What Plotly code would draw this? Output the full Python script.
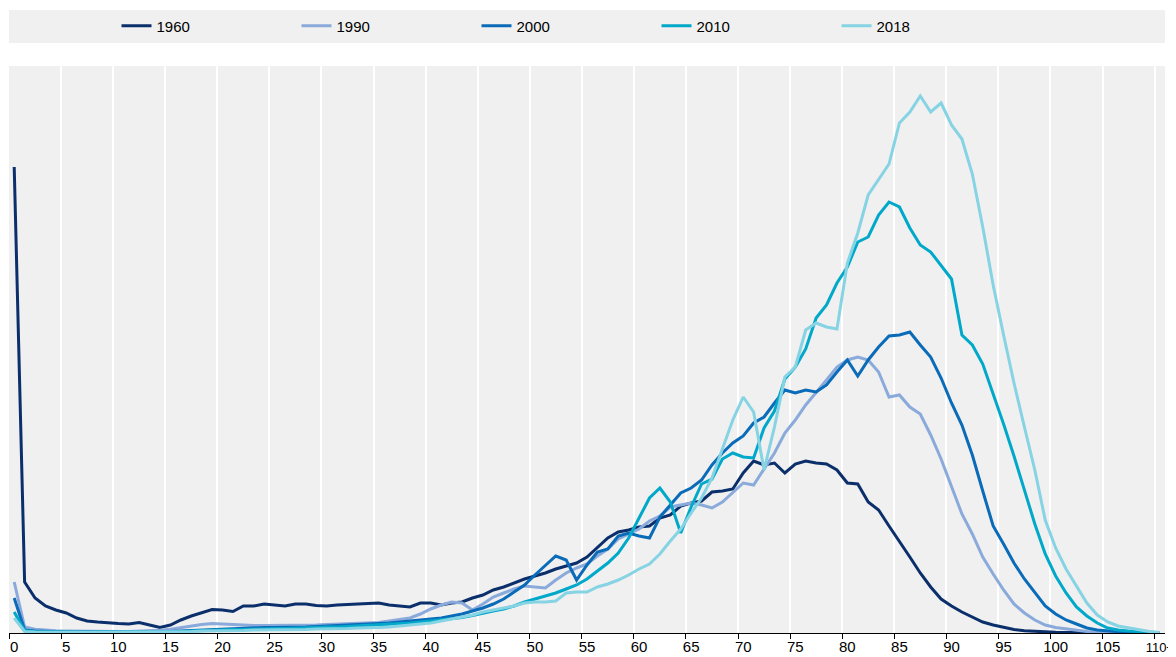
import plotly.graph_objects as go

# age groups 0..110+ (one point per year of age)
ages = list(range(111))
tick_ages = list(range(0, 111, 5))
# last label a touch smaller so the "+" stays on the page
tick_text = [str(a) for a in range(0, 110, 5)] + ["<span style='font-size:13px'>110+</span>"]

years = ["1960", "1990", "2000", "2010", "2018"]

# deaths by age (arbitrary units)
deaths_1960 = [466, 51, 35, 27, 23, 20, 15, 12, 11, 10, 9.5, 9, 10.5, 8, 5.5, 8, 13, 17, 20, 23.5,
               23, 21.5, 27, 27, 29, 28, 27, 29, 29, 27.5, 27, 28, 28.5, 29, 30, 30, 28, 27, 26, 30,
               30, 28, 30, 31, 35, 38, 43, 46, 50, 54, 57, 60, 64, 67, 70, 76, 85, 95, 101, 103,
               106, 107, 115, 118, 127, 130, 132, 141, 142, 144, 160, 172, 168, 170, 160, 169, 172, 170, 169, 163,
               150, 149, 131, 123, 107, 92, 76, 60, 46, 34, 27, 21, 16, 11, 8, 5.5, 3.5, 2.2, 1.5, 1,
               0.7, 0.5, 0.4, 0.3, 0.2, 0.1, 0.1, 0.1, 0.1, 0.1, 0.1]
deaths_1990 = [51, 6, 3.7, 2.8, 2.3, 2, 1.8, 1.6, 1.5, 1.5, 1.5, 1.6, 1.8, 2.2, 2.8, 3.8, 5.5, 7, 8.5, 9.5,
               9, 8, 7.5, 7.5, 7.5, 7.5, 7.5, 7.5, 8, 8, 8.5, 9, 9, 9.5, 10, 10.5, 12, 13.5, 15, 19,
               24, 28, 31, 30, 23, 29, 36, 40, 44, 47, 46, 45, 53, 60, 65, 69, 77, 84, 94, 99,
               104, 112, 117, 126, 128, 130, 128, 125, 131, 140, 150, 148, 164, 180, 200, 213, 228, 240, 253, 266,
               273, 276, 273, 261, 236, 238, 226, 219, 198, 174, 146, 119, 99, 76, 59, 43, 29, 20, 13, 8,
               5.5, 4, 2.5, 1.6, 1, 0.7, 0.5, 0.3, 0.2, 0.1, 0.1]
deaths_2000 = [35, 3, 2, 1.5, 1.2, 1, 1, 1, 1, 1, 1, 1, 1, 1, 1, 1.5, 2, 2.5, 3, 3.5,
               4, 4.5, 5, 5, 5.5, 5.5, 5.5, 6, 6, 6.5, 7, 7, 7.5, 8, 8.5, 9, 10, 11, 12, 13,
               14, 15, 17, 19, 22, 25, 29, 34, 41, 48, 58, 67, 77, 73, 53, 68, 81, 84, 97, 100,
               97, 95, 116, 128, 140, 145, 153, 168, 180, 190, 197, 210, 216, 230, 243, 240, 243, 241, 248, 261,
               273, 257, 273, 286, 297, 298, 301, 288, 276, 255, 230, 208, 178, 142, 107, 89, 70, 54, 40, 27,
               19, 13, 9, 5, 3, 2, 1.3, 0.8, 0.5, 0.3, 0.2]
deaths_2010 = [21, 2.5, 1.5, 1.2, 1, 1, 1, 1, 1, 1, 1, 1, 1, 1, 1, 1.2, 1.5, 2, 2.5, 3,
               3, 3.5, 3.5, 4, 4, 4.5, 4.5, 5, 5, 5.5, 6, 6, 6.5, 7, 7.5, 8, 8.5, 9, 10, 11,
               12, 13, 14, 15.5, 17.5, 20, 22, 24, 27, 31, 34, 37, 40, 44, 48, 54, 62, 70, 80, 95,
               115, 135, 145, 131, 100, 126, 149, 154, 174, 180, 176, 175, 205, 222, 254, 266, 284, 315, 328, 350,
               366, 391, 396, 418, 431, 426, 405, 388, 381, 368, 354, 298, 288, 269, 240, 209, 177, 142, 109, 79,
               57, 40, 26, 17, 10, 5, 3, 2, 1.2, 0.7, 0.3]
deaths_2018 = [15, 1.5, 1, 0.8, 0.8, 0.8, 0.8, 0.8, 0.8, 0.8, 0.8, 0.8, 0.8, 0.8, 0.8, 1, 1.2, 1.5, 2, 2,
               2.5, 2.5, 2.5, 3, 3, 3, 3.5, 3.5, 3.5, 4, 4, 4.5, 4.5, 5, 5, 5.5, 6, 7, 8, 9,
               10, 12, 14, 16, 18, 21, 23, 25, 27, 30, 31, 31, 32, 40, 41, 41, 46, 49, 53, 58,
               64, 69, 79, 92, 104, 120, 135, 155, 183, 213, 236, 221, 163, 206, 256, 266, 303, 310, 306, 304,
               370, 400, 438, 453, 469, 510, 521, 537, 521, 530, 508, 494, 459, 406, 348, 298, 250, 206, 163, 113,
               85, 64, 47, 30, 18, 11, 7, 5, 3, 1.5, 0.5]

series = [deaths_1960, deaths_1990, deaths_2000, deaths_2010, deaths_2018]
colors = ["#0B2F6B", "#8AAADB", "#0A6BB8", "#00A8CA", "#86D3E4"]

fig = go.Figure()
for year, values, color in zip(years, series, colors):
    fig.add_trace(go.Scatter(x=ages, y=values, mode="lines", name=year,
                             line=dict(color=color, width=3)))

# page body has an 8px margin, so the figure is a bit smaller than the window
fig.update_layout(
    width=1168, height=649,
    margin=dict(l=1, r=11, t=58, b=24, autoexpand=False),
    paper_bgcolor="white",
    plot_bgcolor="#F0F0F0",
    font=dict(family="Liberation Sans Narrow, Arial Narrow, Liberation Sans, Arial", size=15, color="#000000"),
    showlegend=True,
    legend=dict(orientation="h", x=0.093, xanchor="left", y=1.0705, yanchor="middle",
                bgcolor="rgba(0,0,0,0)", entrywidth=135, entrywidthmode="pixels",
                font=dict(size=15)),
    shapes=[dict(type="rect", xref="paper", yref="paper", x0=0, x1=1,
                 y0=1.0406, y1=1.0988, fillcolor="#F0F0F0", line=dict(width=0), layer="below")],
)

fig.update_xaxes(
    range=[-0.5, 110.5],
    tickmode="array", tickvals=tick_ages, ticktext=tick_text,
    ticks="", showgrid=False, zeroline=False, ticklabeloverflow="allow",
    showline=True, linecolor="#000000", linewidth=1,
    minor=dict(tick0=-0.5, dtick=5, ticks="outside", ticklen=5, tickcolor="#000000",
               showgrid=True, gridcolor="white", gridwidth=1.5),
)
fig.update_yaxes(range=[0, 567], showticklabels=False, showgrid=False, zeroline=False, ticks="")

fig.write_html("out.html")
